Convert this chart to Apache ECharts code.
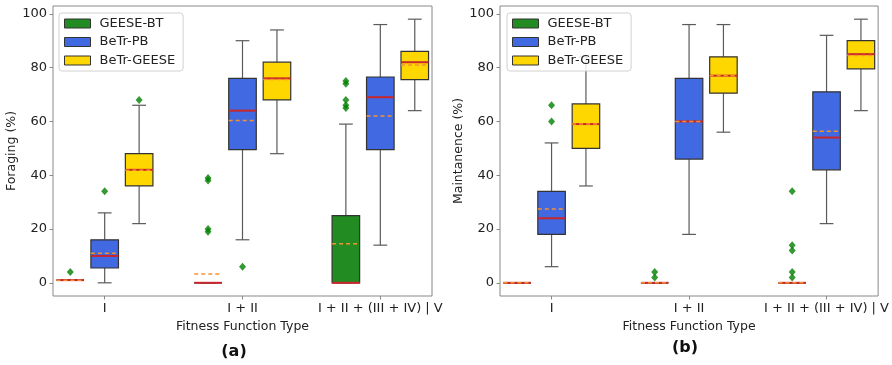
<!DOCTYPE html>
<html>
<head>
<meta charset="utf-8">
<script src="https://cdn.jsdelivr.net/npm/echarts@6/dist/echarts.min.js"></script>
<style>
  html, body { margin: 0; padding: 0; background: #fff; }
  #main { width: 892px; height: 365px; }
</style>
</head>
<body>
<div id="main"></div>
<script>
// categories and methods
var categories = ['I', 'I + II', 'I + II + (III + IV) | V'];
var methods = ['GEESE-BT', 'BeTr-PB', 'BeTr-GEESE'];
var yTicks = [0, 20, 40, 60, 80, 100];

// box stats per category: [min, q1, median, q3, max]
var foragingGeeseBt = [[1, 1, 1, 1, 1], [0, 0, 0, 0, 0], [0, 0, 0, 25, 59]];
var foragingBetrPb = [[0, 5.5, 10, 16, 26], [16, 49.5, 64, 76, 90], [14, 49.5, 69, 76.5, 96]];
var foragingBetrGeese = [[22, 36, 42, 48, 66], [48, 68, 76, 82, 94], [64, 75.5, 82, 86, 98]];
var foragingMeans = [[1, 3.3, 14.5], [11, 60.3, 62], [41.8, 75.6, 81]];
var foragingOutliers = [
    [[4], [19, 20, 38, 39], [65, 66, 68, 74, 75]],
    [[34], [6], []],
    [[68], [], []]
];

var maintGeeseBt = [[0, 0, 0, 0, 0], [0, 0, 0, 0, 0], [0, 0, 0, 0, 0]];
var maintBetrPb = [[6, 18, 24, 34, 52], [18, 46, 60, 76, 96], [22, 42, 54, 71, 92]];
var maintBetrGeese = [[36, 50, 59, 66.5, 84], [56, 70.5, 77, 84, 96], [64, 79.5, 85, 90, 98]];
var maintMeans = [[0, 0, 0], [27.4, 60, 56.3], [59, 77, 84.5]];
var maintOutliers = [
    [[], [2, 4], [2, 4, 12, 14, 34]],
    [[60, 66], [], []],
    [[], [], []]
];

var colors = ['#228B22', '#4169E1', '#FFD700'];
var offsets = [-0.25, 0, 0.25];
var boxWidth = 0.2;
var font = 'DejaVu Sans';

var chart = echarts.init(document.getElementById('main'));

function renderBox(params, api) {
    var x = api.value(0);
    var w = api.size([boxWidth, 0])[0];
    var cap = w / 4;
    var pMin = api.coord([x, api.value(1)]);
    var pQ1 = api.coord([x, api.value(2)]);
    var pMed = api.coord([x, api.value(3)]);
    var pQ3 = api.coord([x, api.value(4)]);
    var pMax = api.coord([x, api.value(5)]);
    var pMean = api.coord([x, api.value(6)]);
    var cx = pMin[0];
    var whisker = {stroke: '#5a5a5a', lineWidth: 1.2};
    return {
        type: 'group',
        children: [
            {type: 'line', shape: {x1: cx, y1: pQ1[1], x2: cx, y2: pMin[1]}, style: whisker},
            {type: 'line', shape: {x1: cx, y1: pQ3[1], x2: cx, y2: pMax[1]}, style: whisker},
            {type: 'line', shape: {x1: cx - cap, y1: pMin[1], x2: cx + cap, y2: pMin[1]}, style: whisker},
            {type: 'line', shape: {x1: cx - cap, y1: pMax[1], x2: cx + cap, y2: pMax[1]}, style: whisker},
            {
                type: 'rect',
                shape: {x: cx - w / 2, y: pQ3[1], width: w, height: pQ1[1] - pQ3[1]},
                style: {fill: api.visual('color'), stroke: '#333', lineWidth: 1.2}
            },
            {type: 'line', shape: {x1: cx - w / 2, y1: pMed[1], x2: cx + w / 2, y2: pMed[1]},
                style: {stroke: '#c8262b', lineWidth: 2}},
            {type: 'line', shape: {x1: cx - w / 2, y1: pMean[1], x2: cx + w / 2, y2: pMean[1]},
                style: {stroke: '#f5922f', lineWidth: 1.5, lineDash: [4, 3]}}
        ]
    };
}

function buildSeries(gridIdx, stats, means, outliers) {
    var out = [];
    for (var m = 0; m < 3; m++) {
        var data = [];
        for (var c = 0; c < categories.length; c++) {
            var s = stats[m][c];
            data.push([c + 1 + offsets[m], s[0], s[1], s[2], s[3], s[4], means[m][c]]);
        }
        out.push({
            name: methods[m],
            type: 'custom',
            xAxisIndex: gridIdx,
            yAxisIndex: gridIdx,
            itemStyle: {color: colors[m], borderColor: '#333', borderWidth: 1},
            renderItem: renderBox,
            encode: {x: 0, y: [1, 2, 3, 4, 5, 6]},
            clip: false,
            data: data
        });
    }
    var pts = [];
    for (var m2 = 0; m2 < 3; m2++) {
        for (var c2 = 0; c2 < categories.length; c2++) {
            outliers[m2][c2].forEach(function (v) {
                pts.push([c2 + 1 + offsets[m2], v]);
            });
        }
    }
    out.push({
        name: 'outliers',
        type: 'scatter',
        xAxisIndex: gridIdx,
        yAxisIndex: gridIdx,
        symbol: 'diamond',
        symbolSize: [7, 8],
        itemStyle: {color: '#008000'},
        z: 5,
        data: pts
    });
    return out;
}

function xAxisFor(idx) {
    return {
        type: 'value',
        gridIndex: idx,
        min: 0.625,
        max: 3.375,
        splitLine: {show: false},
        axisLine: {show: false, onZero: false},
        axisTick: {show: true, customValues: [1, 2, 3], length: 3.5, lineStyle: {color: '#888'}},
        axisLabel: {
            customValues: [1, 2, 3],
            formatter: function (v) { return categories[Math.round(v) - 1]; },
            color: '#222', fontSize: 13, fontFamily: font, margin: 6
        },
        name: 'Fitness Function Type',
        nameLocation: 'middle',
        nameGap: 21,
        nameTextStyle: {color: '#222', fontSize: 12.5, fontFamily: font}
    };
}

function yAxisFor(idx, title) {
    return {
        type: 'value',
        gridIndex: idx,
        min: -4.9,
        max: 102.9,
        splitLine: {show: false},
        axisLine: {show: false, onZero: false},
        axisTick: {show: true, customValues: yTicks, length: 3.5, lineStyle: {color: '#888'}},
        axisLabel: {customValues: yTicks, color: '#222', fontSize: 13, fontFamily: font, margin: 6},
        name: title,
        nameLocation: 'middle',
        nameGap: 33,
        nameTextStyle: {color: '#222', fontSize: 12.5, fontFamily: font}
    };
}

function legendFor(left) {
    return {
        data: methods,
        orient: 'vertical',
        left: left,
        top: 13,
        itemWidth: 26,
        itemHeight: 9,
        itemGap: 5.5,
        padding: [4, 8, 4, 5],
        backgroundColor: 'rgba(255,255,255,0.85)',
        borderColor: '#d0d0d0',
        borderWidth: 1,
        borderRadius: 3,
        icon: 'rect',
        itemStyle: {borderColor: '#333', borderWidth: 1},
        textStyle: {color: '#222', fontSize: 13, fontFamily: font, padding: [0, 0, 0, 4]},
        z: 10
    };
}

var option = {
    animation: false,
    grid: [
        {left: 53, top: 6, width: 379, height: 290, show: true, borderColor: '#888', borderWidth: 1},
        {left: 500, top: 6, width: 379, height: 290, show: true, borderColor: '#888', borderWidth: 1}
    ],
    xAxis: [xAxisFor(0), xAxisFor(1)],
    yAxis: [yAxisFor(0, 'Foraging (%)'), yAxisFor(1, 'Maintanence (%)')],
    legend: [legendFor(59), legendFor(507)],
    graphic: [
        {type: 'text', x: 234, y: 352, style: {text: '(a)', align: 'center', verticalAlign: 'middle',
            font: 'bold 16px "DejaVu Sans"', fill: '#111'}},
        {type: 'text', x: 685, y: 348, style: {text: '(b)', align: 'center', verticalAlign: 'middle',
            font: 'bold 16px "DejaVu Sans"', fill: '#111'}}
    ],
    series: buildSeries(0, [foragingGeeseBt, foragingBetrPb, foragingBetrGeese], foragingMeans, foragingOutliers)
        .concat(buildSeries(1, [maintGeeseBt, maintBetrPb, maintBetrGeese], maintMeans, maintOutliers))
};

chart.setOption(option);
</script>
</body>
</html>
